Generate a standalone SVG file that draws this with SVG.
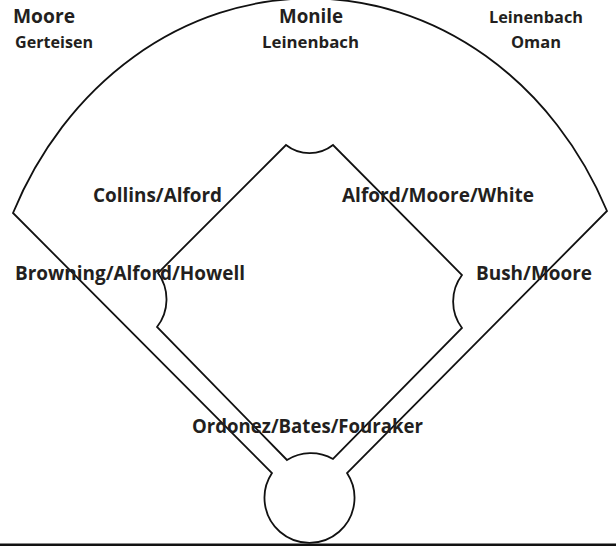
<svg xmlns="http://www.w3.org/2000/svg" width="616" height="546" viewBox="0 0 616 546">
<style>
.f{fill:none;stroke:#111;stroke-width:1.8;stroke-linejoin:miter}
.t{font-family:"Open Sans","Liberation Sans",Arial,sans-serif;font-weight:bold;fill:#231f20}
.l{font-size:19.5px}
.s{font-size:15.5px}
</style>
<rect width="616" height="546" fill="#fff"/>
<g id="field">
<path class="f" d="M13,213 A328,371 0 0 1 607,211 L347,473 A45,45 0 1 1 272,473 Z"/>
<path class="f" d="M287,460 L157,327 A45,45 0 0 0 158,273 L286,145 A38,38 0 0 0 333,145 L462,275 A44,44 0 0 0 462,328 L333,459 A45,45 0 0 0 287,460 Z"/>
<line x1="0" y1="545" x2="616" y2="545" stroke="#111" stroke-width="3"/>
</g>
<g id="labels">
<text class="t l" x="13" y="23" textLength="62" lengthAdjust="spacingAndGlyphs">Moore</text>
<text class="t s" x="15" y="48" textLength="78" lengthAdjust="spacingAndGlyphs">Gerteisen</text>
<text class="t l" x="279" y="23" textLength="64" lengthAdjust="spacingAndGlyphs">Monile</text>
<text class="t s" x="262" y="48" textLength="97" lengthAdjust="spacingAndGlyphs">Leinenbach</text>
<text class="t s" x="489" y="23" textLength="94" lengthAdjust="spacingAndGlyphs">Leinenbach</text>
<text class="t s" x="511" y="48" textLength="50" lengthAdjust="spacingAndGlyphs">Oman</text>
<text class="t l" x="93" y="202" textLength="129" lengthAdjust="spacingAndGlyphs">Collins/Alford</text>
<text class="t l" x="342" y="202" textLength="192" lengthAdjust="spacingAndGlyphs">Alford/Moore/White</text>
<text class="t l" x="15" y="280" textLength="230" lengthAdjust="spacingAndGlyphs">Browning/Alford/Howell</text>
<text class="t l" x="476" y="280" textLength="116" lengthAdjust="spacingAndGlyphs">Bush/Moore</text>
<text class="t l" x="192" y="433" textLength="231" lengthAdjust="spacingAndGlyphs">Ordonez/Bates/Fouraker</text>
</g>
</svg>
